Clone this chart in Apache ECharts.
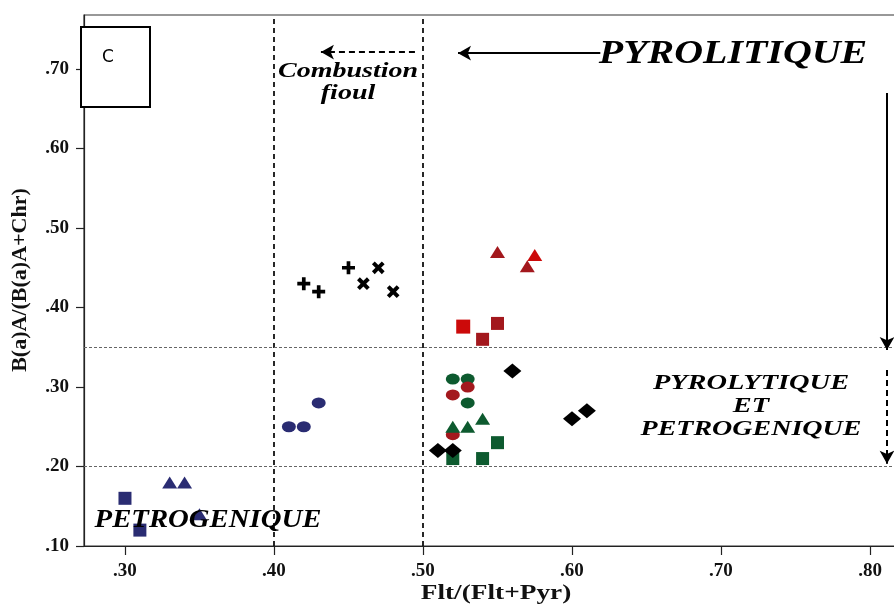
<!DOCTYPE html>
<html><head><meta charset="utf-8">
<script src="https://cdn.jsdelivr.net/npm/echarts@6/dist/echarts.min.js"></script>
<style>html,body{margin:0;padding:0;background:#fff}#c{width:894px;height:606px}</style>
</head><body><div id="c"></div>
<script>
// ---- data ----
const xTicks = [0.30, 0.40, 0.50, 0.60, 0.70, 0.80];
const yTicks = [0.10, 0.20, 0.30, 0.40, 0.50, 0.60, 0.70];
const navySquares = [[0.30, 0.16], [0.31, 0.12]];
const navyTriangles = [[0.33, 0.18], [0.34, 0.18], [0.35, 0.14]];
const navyCircles = [[0.41, 0.25], [0.42, 0.25], [0.43, 0.28]];
const blackPlus = [[0.42, 0.43], [0.43, 0.42], [0.45, 0.45]];
const blackCross = [[0.46, 0.43], [0.47, 0.45], [0.48, 0.42]];
const redTriangles = [[0.55, 0.47], [0.57, 0.452]];
const brightRedTriangles = [[0.575, 0.466]];
const redSquares = [[0.55, 0.38], [0.54, 0.36]];
const brightRedSquares = [[0.527, 0.376]];
const redCircles = [[0.53, 0.30], [0.52, 0.29], [0.52, 0.24]];
const greenCircles = [[0.52, 0.31], [0.53, 0.31], [0.53, 0.28]];
const greenTriangles = [[0.52, 0.25], [0.53, 0.25], [0.54, 0.26]];
const greenSquares = [[0.52, 0.21], [0.54, 0.21], [0.55, 0.23]];
const blackDiamonds = [[0.51, 0.22], [0.52, 0.22], [0.56, 0.32], [0.60, 0.26], [0.61, 0.27]];
const vRefLines = [0.40, 0.50];
const hRefLines = [0.35, 0.20];
// annotation arrows: [x1,y1,x2,y2,dashed]
const arrows = [
  [0.619, 0.720, 0.5235, 0.720, false],
  [0.4946, 0.7214, 0.4315, 0.7214, true],
  [0.8114, 0.670, 0.8114, 0.3465, false],
  [0.8114, 0.3215, 0.8114, 0.2035, true]
];

const NAVY = '#2a2c72', DRED = '#a3181d', BRED = '#cc0a0a', GREEN = '#0d5a2f', BLACK = '#000';
const PLUS = 'path://M4.3,0H7.7V4.3H12V7.7H7.7V12H4.3V7.7H0V4.3H4.3Z';
const serif = '"Liberation Serif","Times New Roman",serif';
const fmt = v => v.toFixed(2).replace(/^0/, '');

function sc(name, data, symbol, size, color, extra) {
  return Object.assign({ name, type: 'scatter', data, symbol, symbolSize: size,
    itemStyle: { color, opacity: 1 }, z: 5 }, extra || {});
}

const series = [
  sc('navySq', navySquares, 'rect', 13, NAVY, {
    markLine: {
      silent: true, symbol: 'none', label: { show: false }, z: 2,
      data: vRefLines.map(v => ({ xAxis: v, lineStyle: { color: '#111', type: [5, 4], width: 1.8 } }))
        .concat(hRefLines.map(v => ({ yAxis: v, lineStyle: { color: '#666', type: [3, 2], width: 1 } })))
    }
  }),
  sc('navyTri', navyTriangles, 'triangle', [15, 12], NAVY),
  sc('navyCirc', navyCircles, 'circle', [14, 11], NAVY),
  sc('plus', blackPlus, PLUS, 13, BLACK),
  sc('cross', blackCross, PLUS, 14, BLACK, { symbolRotate: 45 }),
  sc('redTri', redTriangles, 'triangle', [15, 12], DRED),
  sc('bredTri', brightRedTriangles, 'triangle', [15, 12], BRED),
  sc('redSq', redSquares, 'rect', 13, DRED),
  sc('bredSq', brightRedSquares, 'rect', 14, BRED),
  sc('greenCirc', greenCircles, 'circle', [14, 11], GREEN),
  sc('redCirc', redCircles, 'circle', [14, 11], DRED),
  sc('greenTri', greenTriangles, 'triangle', [15, 12], GREEN),
  sc('greenSq', greenSquares, 'rect', 13, GREEN),
  sc('diam', blackDiamonds, 'diamond', [18, 15], BLACK, {
    markLine: {
      silent: true, symbol: ['none', 'arrow'], symbolSize: [11, 13], label: { show: false }, z: 3,
      data: arrows.map(a => [
        { coord: [a[0], a[1]], lineStyle: { color: '#000', width: 2, type: a[4] ? [6, 4] : 'solid' } },
        { coord: [a[2], a[3]] }
      ])
    }
  })
];

function txt(x, y, text, size, sx, extra) {
  return Object.assign({ type: 'text', x, y, scaleX: sx, z: 11,
    style: { text, font: 'italic bold ' + size + 'px ' + serif, fill: '#000', align: 'center', verticalAlign: 'middle' } }, extra || {});
}

const chart = echarts.init(document.getElementById('c'), null, { renderer: 'canvas' });
chart.setOption({
  animation: false,
  backgroundColor: '#fff',
  grid: { left: 84, top: 15, right: -14, bottom: 60, containLabel: false, outerBoundsMode: 'none',
    show: true, borderColor: '#333', borderWidth: 1.2 },
  xAxis: {
    type: 'value', min: 0.2725, max: 0.8255,
    axisLine: { show: true, lineStyle: { color: '#222', width: 1.2 } },
    axisTick: { show: true, length: 9, lineStyle: { color: '#222', width: 1.2 }, customValues: xTicks },
    axisLabel: { customValues: xTicks, formatter: fmt, margin: 16, fontFamily: serif, fontWeight: 'bold', fontSize: 19, color: '#111' },
    splitLine: { show: false }
  },
  yAxis: {
    type: 'value', min: 0.10, max: 0.768,
    axisLine: { show: true, lineStyle: { color: '#222', width: 1.2 } },
    axisTick: { show: true, length: 8, lineStyle: { color: '#222', width: 1.2 }, customValues: yTicks },
    axisLabel: { customValues: yTicks, formatter: fmt, margin: 15, fontFamily: serif, fontWeight: 'bold', fontSize: 19, color: '#111' },
    splitLine: { show: false }
  },
  series,
  graphic: [
    { type: 'rect', shape: { x: 81, y: 27, width: 69, height: 80 }, style: { fill: '#fff', stroke: '#000', lineWidth: 2 }, z: 10 },
    { type: 'text', x: 108, y: 58, z: 11, style: { text: 'C', font: '17px "DejaVu Sans", sans-serif', fill: '#000', align: 'center', verticalAlign: 'middle' } },
    txt(733, 54, 'PYROLITIQUE', 33, 1.21),
    txt(348, 72, 'Combustion', 20, 1.4),
    txt(348, 94, 'fioul', 20, 1.4),
    txt(208, 521, 'PETROGENIQUE', 25, 1.15),
    txt(751, 384, 'PYROLYTIQUE', 20, 1.42),
    txt(751, 407, 'ET', 20, 1.42),
    txt(751, 430, 'PETROGENIQUE', 20, 1.4),
    { type: 'text', x: 496, y: 594, scaleX: 1.3, z: 11,
      style: { text: 'Flt/(Flt+Pyr)', font: 'bold 21px ' + serif, fill: '#111', align: 'center', verticalAlign: 'middle' } },
    { type: 'text', x: 20, y: 280, rotation: Math.PI / 2, z: 11,
      style: { text: 'B(a)A/(B(a)A+Chr)', font: 'bold 22px ' + serif, fill: '#111', align: 'center', verticalAlign: 'middle' } }
  ]
});
</script></body></html>
